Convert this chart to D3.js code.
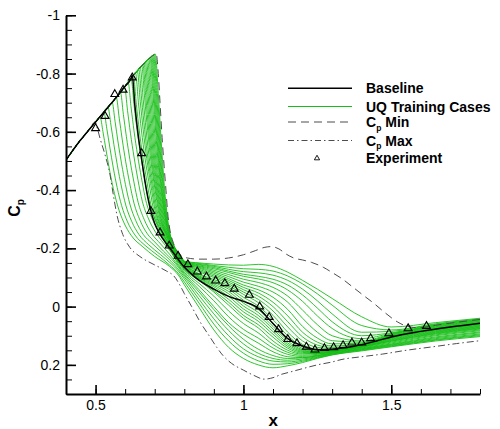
<!DOCTYPE html>
<html>
<head>
<meta charset="utf-8">
<script src="https://cdn.jsdelivr.net/npm/d3@7"></script>
<style>
  body { margin: 0; background: #fff; }
  svg { display: block; }
  text { font-family: "Liberation Sans", Arial, Helvetica, sans-serif; }
</style>
</head>
<body>
<svg id="chart" width="500" height="429"></svg>
<script>
// Common suction branch ahead of the shock, shared by every solution
const sharedBranch = [
  [0.40, -0.503], [0.42, -0.532], [0.44, -0.560], [0.46, -0.585], [0.48, -0.610],
  [0.50, -0.634], [0.52, -0.658], [0.54, -0.682], [0.56, -0.706], [0.58, -0.731],
  [0.60, -0.757], [0.62, -0.783], [0.64, -0.808], [0.66, -0.830], [0.68, -0.850],
  [0.70, -0.866], [0.705, -0.869]
];

// Baseline model, downstream of its shock foot
const baseline = [
  [0.624, -0.794], [0.633, -0.690], [0.644, -0.590], [0.656, -0.505], [0.667, -0.430],
  [0.684, -0.340], [0.700, -0.285], [0.718, -0.248], [0.740, -0.215], [0.763, -0.185],
  [0.796, -0.140], [0.840, -0.098], [0.900, -0.060], [0.950, -0.035], [1.000, -0.018],
  [1.050, 0.005], [1.100, 0.058], [1.150, 0.110], [1.200, 0.135], [1.250, 0.148],
  [1.300, 0.146], [1.370, 0.137], [1.450, 0.118], [1.500, 0.104], [1.600, 0.085],
  [1.700, 0.070], [1.800, 0.057]
];

// Lower bound of Cp (most suction)
const cpMin = [
  [0.705, -0.869], [0.712, -0.800], [0.718, -0.700], [0.725, -0.580], [0.732, -0.480],
  [0.738, -0.400], [0.745, -0.310], [0.752, -0.260], [0.762, -0.222], [0.775, -0.192],
  [0.790, -0.175], [0.810, -0.167], [0.850, -0.163], [0.900, -0.163], [0.950, -0.167],
  [1.000, -0.178], [1.040, -0.192], [1.070, -0.203], [1.095, -0.206], [1.120, -0.198],
  [1.145, -0.180], [1.170, -0.167], [1.200, -0.160], [1.230, -0.152], [1.270, -0.135],
  [1.300, -0.117], [1.330, -0.098], [1.370, -0.067], [1.400, -0.043], [1.440, -0.012],
  [1.480, 0.022], [1.520, 0.052], [1.555, 0.068], [1.590, 0.072], [1.650, 0.064],
  [1.720, 0.054], [1.800, 0.044]
];

// Upper bound of Cp
const cpMax = [
  [0.498, -0.634], [0.507, -0.608], [0.515, -0.578], [0.532, -0.521], [0.549, -0.452],
  [0.559, -0.390], [0.572, -0.316], [0.589, -0.256], [0.616, -0.203], [0.650, -0.172],
  [0.700, -0.143], [0.740, -0.122], [0.765, -0.105], [0.785, -0.074], [0.800, -0.045],
  [0.825, 0.000], [0.855, 0.055], [0.886, 0.103], [0.910, 0.140], [0.931, 0.168],
  [0.960, 0.195], [1.000, 0.218], [1.035, 0.236], [1.070, 0.249], [1.100, 0.244],
  [1.130, 0.232], [1.160, 0.224], [1.200, 0.213], [1.250, 0.200], [1.300, 0.190],
  [1.330, 0.182], [1.400, 0.172], [1.470, 0.163], [1.550, 0.150], [1.640, 0.138],
  [1.720, 0.127], [1.800, 0.117]
];

// Wind-tunnel measurements
const experiment = [
  [0.500, -0.612], [0.532, -0.654], [0.565, -0.729], [0.593, -0.744], [0.624, -0.786],
  [0.656, -0.526], [0.687, -0.328], [0.718, -0.254], [0.749, -0.209], [0.779, -0.174],
  [0.812, -0.145], [0.844, -0.120], [0.875, -0.103], [0.906, -0.089], [0.937, -0.080],
  [0.969, -0.061], [1.020, -0.040], [1.055, 0.000], [1.087, 0.036], [1.119, 0.078],
  [1.150, 0.112], [1.181, 0.126], [1.213, 0.138], [1.242, 0.148], [1.274, 0.143],
  [1.305, 0.140], [1.337, 0.133], [1.367, 0.124], [1.400, 0.124], [1.430, 0.109],
  [1.492, 0.092], [1.557, 0.075], [1.619, 0.067]
];

// Stations where the training-case recovery values are tabulated
const tailStations = [0.80, 0.85, 0.90, 0.95, 1.00, 1.05, 1.10, 1.15, 1.20, 1.25, 1.30, 1.40, 1.50, 1.65, 1.80];

// UQ training cases: shock segment (starting on the shared branch) + recovery values
const trainingCases = [
  { shock: [[0.515,-0.652],[0.525,-0.600],[0.535,-0.540],[0.547,-0.470],[0.560,-0.405],[0.575,-0.345],[0.595,-0.290],[0.620,-0.245],[0.660,-0.205],[0.700,-0.172],[0.750,-0.138],[0.780,-0.108]],
    tail: [-0.075,0.003,0.080,0.140,0.178,0.200,0.210,0.203,0.192,0.178,0.166,0.152,0.138,0.118,0.103] },
  { shock: [[0.528,-0.668],[0.538,-0.611],[0.548,-0.548],[0.560,-0.476],[0.573,-0.409],[0.588,-0.347],[0.608,-0.291],[0.633,-0.246],[0.670,-0.208],[0.710,-0.176],[0.750,-0.143],[0.780,-0.114]],
    tail: [-0.085,-0.012,0.060,0.118,0.160,0.186,0.198,0.196,0.188,0.176,0.165,0.150,0.136,0.115,0.100] },
  { shock: [[0.542,-0.684],[0.552,-0.623],[0.562,-0.556],[0.574,-0.483],[0.587,-0.414],[0.602,-0.349],[0.622,-0.293],[0.647,-0.247],[0.680,-0.212],[0.720,-0.178],[0.755,-0.148],[0.780,-0.122]],
    tail: [-0.095,-0.025,0.042,0.100,0.145,0.172,0.187,0.190,0.184,0.174,0.163,0.148,0.134,0.113,0.097] },
  { shock: [[0.556,-0.701],[0.566,-0.635],[0.576,-0.565],[0.588,-0.490],[0.601,-0.419],[0.616,-0.352],[0.636,-0.295],[0.661,-0.248],[0.690,-0.218],[0.725,-0.185],[0.755,-0.156],[0.780,-0.128]],
    tail: [-0.102,-0.038,0.025,0.082,0.128,0.160,0.178,0.184,0.180,0.172,0.162,0.147,0.132,0.110,0.094] },
  { shock: [[0.570,-0.718],[0.580,-0.647],[0.590,-0.575],[0.602,-0.497],[0.615,-0.425],[0.630,-0.355],[0.650,-0.297],[0.675,-0.250],[0.700,-0.222],[0.730,-0.190],[0.758,-0.162],[0.780,-0.135]],
    tail: [-0.108,-0.050,0.010,0.066,0.112,0.146,0.168,0.178,0.176,0.169,0.160,0.145,0.130,0.107,0.090] },
  { shock: [[0.584,-0.736],[0.594,-0.660],[0.604,-0.585],[0.616,-0.505],[0.629,-0.431],[0.644,-0.358],[0.664,-0.300],[0.689,-0.252],[0.720,-0.215],[0.750,-0.180],[0.780,-0.140]],
    tail: [-0.113,-0.058,0.000,0.055,0.095,0.125,0.155,0.172,0.175,0.169,0.160,0.144,0.128,0.104,0.087] },
  { shock: [[0.598,-0.754],[0.608,-0.674],[0.618,-0.595],[0.630,-0.514],[0.643,-0.437],[0.658,-0.362],[0.678,-0.304],[0.703,-0.255],[0.730,-0.218],[0.758,-0.183],[0.780,-0.145]],
    tail: [-0.118,-0.070,-0.020,0.035,0.078,0.108,0.142,0.164,0.171,0.167,0.158,0.142,0.125,0.100,0.083] },
  { shock: [[0.610,-0.770],[0.620,-0.685],[0.630,-0.603],[0.642,-0.520],[0.655,-0.442],[0.670,-0.364],[0.690,-0.305],[0.715,-0.255],[0.740,-0.220],[0.762,-0.186],[0.780,-0.153]],
    tail: [-0.124,-0.080,-0.036,0.015,0.058,0.090,0.130,0.157,0.167,0.164,0.156,0.140,0.122,0.097,0.080] },
  { shock: [[0.620,-0.783],[0.630,-0.693],[0.640,-0.608],[0.652,-0.523],[0.665,-0.443],[0.680,-0.363],[0.700,-0.303],[0.725,-0.253],[0.750,-0.212],[0.780,-0.158]],
    tail: [-0.128,-0.090,-0.050,-0.005,0.040,0.073,0.118,0.150,0.163,0.162,0.155,0.138,0.119,0.094,0.077] },
  { shock: [[0.628,-0.793],[0.638,-0.693],[0.648,-0.603],[0.660,-0.513],[0.673,-0.433],[0.688,-0.345],[0.708,-0.280],[0.745,-0.205],[0.780,-0.152]],
    tail: [-0.130,-0.092,-0.055,-0.015,0.030,0.062,0.105,0.143,0.160,0.161,0.155,0.138,0.118,0.092,0.075] },
  { shock: [[0.635,-0.802],[0.645,-0.700],[0.655,-0.606],[0.667,-0.511],[0.680,-0.429],[0.695,-0.338],[0.715,-0.274],[0.748,-0.205],[0.780,-0.155]],
    tail: [-0.133,-0.095,-0.062,-0.025,0.018,0.050,0.095,0.137,0.157,0.160,0.154,0.137,0.116,0.090,0.073] },
  { shock: [[0.641,-0.809],[0.651,-0.705],[0.661,-0.607],[0.673,-0.508],[0.686,-0.423],[0.701,-0.331],[0.721,-0.268],[0.750,-0.207],[0.780,-0.157]],
    tail: [-0.136,-0.098,-0.068,-0.035,0.008,0.040,0.086,0.131,0.154,0.158,0.153,0.136,0.114,0.088,0.071] },
  { shock: [[0.646,-0.815],[0.656,-0.709],[0.666,-0.607],[0.678,-0.503],[0.691,-0.417],[0.706,-0.323],[0.726,-0.262],[0.753,-0.207],[0.780,-0.159]],
    tail: [-0.138,-0.100,-0.073,-0.044,-0.002,0.030,0.077,0.125,0.151,0.157,0.152,0.135,0.112,0.086,0.069] },
  { shock: [[0.651,-0.820],[0.661,-0.712],[0.671,-0.606],[0.683,-0.498],[0.696,-0.409],[0.711,-0.316],[0.731,-0.257],[0.755,-0.208],[0.780,-0.161]],
    tail: [-0.140,-0.103,-0.078,-0.052,-0.012,0.020,0.068,0.118,0.148,0.155,0.151,0.134,0.110,0.084,0.067] },
  { shock: [[0.656,-0.826],[0.666,-0.716],[0.676,-0.605],[0.688,-0.493],[0.701,-0.402],[0.716,-0.309],[0.736,-0.251],[0.758,-0.206],[0.780,-0.165]],
    tail: [-0.143,-0.106,-0.083,-0.060,-0.022,0.010,0.058,0.110,0.144,0.153,0.150,0.133,0.108,0.082,0.065] },
  { shock: [[0.660,-0.830],[0.670,-0.718],[0.680,-0.603],[0.692,-0.487],[0.705,-0.393],[0.720,-0.302],[0.740,-0.245],[0.760,-0.200],[0.780,-0.166]],
    tail: [-0.145,-0.110,-0.088,-0.066,-0.032,-0.002,0.045,0.100,0.138,0.150,0.149,0.132,0.106,0.080,0.063] },
  { shock: [[0.664,-0.834],[0.674,-0.720],[0.684,-0.601],[0.696,-0.480],[0.709,-0.385],[0.724,-0.294],[0.744,-0.239],[0.762,-0.199],[0.780,-0.166]],
    tail: [-0.146,-0.113,-0.093,-0.072,-0.042,-0.014,0.030,0.088,0.130,0.146,0.147,0.131,0.104,0.078,0.061] },
  { shock: [[0.668,-0.838],[0.678,-0.722],[0.688,-0.599],[0.700,-0.474],[0.713,-0.376],[0.728,-0.287],[0.748,-0.233],[0.765,-0.196],[0.782,-0.167]],
    tail: [-0.148,-0.120,-0.100,-0.078,-0.050,-0.025,0.015,0.070,0.118,0.140,0.144,0.130,0.103,0.076,0.059] },
  { shock: [[0.672,-0.842],[0.682,-0.724],[0.692,-0.597],[0.704,-0.467],[0.717,-0.367],[0.732,-0.280],[0.752,-0.228],[0.768,-0.193],[0.784,-0.168]],
    tail: [-0.150,-0.124,-0.105,-0.084,-0.058,-0.036,0.000,0.052,0.104,0.132,0.140,0.129,0.102,0.075,0.058] },
  { shock: [[0.676,-0.846],[0.686,-0.727],[0.696,-0.595],[0.708,-0.460],[0.721,-0.358],[0.736,-0.273],[0.756,-0.222],[0.772,-0.188],[0.786,-0.168]],
    tail: [-0.151,-0.128,-0.110,-0.090,-0.066,-0.047,-0.015,0.032,0.088,0.122,0.135,0.127,0.100,0.073,0.056] },
  { shock: [[0.680,-0.850],[0.690,-0.729],[0.700,-0.593],[0.712,-0.454],[0.725,-0.349],[0.740,-0.266],[0.760,-0.216],[0.778,-0.178]],
    tail: [-0.152,-0.132,-0.115,-0.096,-0.074,-0.058,-0.032,0.010,0.068,0.108,0.128,0.125,0.098,0.071,0.054] },
  { shock: [[0.684,-0.853],[0.694,-0.730],[0.704,-0.590],[0.716,-0.446],[0.729,-0.340],[0.744,-0.258],[0.764,-0.210],[0.781,-0.176]],
    tail: [-0.153,-0.135,-0.120,-0.103,-0.084,-0.070,-0.050,-0.015,0.040,0.088,0.117,0.122,0.096,0.069,0.052] },
  { shock: [[0.687,-0.856],[0.697,-0.731],[0.707,-0.587],[0.719,-0.439],[0.732,-0.330],[0.747,-0.251],[0.767,-0.204],[0.784,-0.174]],
    tail: [-0.154,-0.138,-0.125,-0.110,-0.094,-0.083,-0.066,-0.036,0.012,0.062,0.100,0.118,0.094,0.067,0.050] },
  { shock: [[0.690,-0.858],[0.700,-0.731],[0.710,-0.582],[0.722,-0.430],[0.735,-0.319],[0.750,-0.244],[0.770,-0.198],[0.786,-0.172]],
    tail: [-0.154,-0.140,-0.130,-0.117,-0.104,-0.095,-0.082,-0.057,-0.018,0.032,0.075,0.110,0.092,0.065,0.048] },
  { shock: [[0.693,-0.861],[0.703,-0.732],[0.713,-0.579],[0.725,-0.423],[0.738,-0.309],[0.753,-0.237],[0.773,-0.193],[0.788,-0.170]],
    tail: [-0.155,-0.143,-0.134,-0.122,-0.111,-0.104,-0.094,-0.074,-0.040,0.005,0.052,0.100,0.090,0.063,0.046] },
  { shock: [[0.696,-0.863],[0.706,-0.732],[0.716,-0.575],[0.728,-0.414],[0.741,-0.299],[0.756,-0.229],[0.776,-0.187],[0.790,-0.168]],
    tail: [-0.155,-0.145,-0.138,-0.128,-0.120,-0.116,-0.108,-0.090,-0.060,-0.020,0.025,0.088,0.085,0.061,0.044] },
  { shock: [[0.699,-0.865],[0.709,-0.732],[0.719,-0.571],[0.731,-0.406],[0.744,-0.288],[0.759,-0.222],[0.779,-0.183],[0.792,-0.166]],
    tail: [-0.156,-0.148,-0.141,-0.135,-0.130,-0.128,-0.122,-0.105,-0.078,-0.044,-0.005,0.065,0.080,0.059,0.042] },
  { shock: [[0.702,-0.867],[0.712,-0.732],[0.722,-0.567],[0.734,-0.397],[0.747,-0.277],[0.762,-0.215],[0.782,-0.178],[0.793,-0.165]],
    tail: [-0.156,-0.150,-0.146,-0.143,-0.142,-0.145,-0.138,-0.118,-0.090,-0.060,-0.028,0.035,0.070,0.055,0.040] }
];

// Axis ticks
const xTicks = [0.5, 1, 1.5];
const xTickLabels = ["0.5", "1", "1.5"];
const yTicks = [-1, -0.8, -0.6, -0.4, -0.2, 0, 0.2];
const yTickLabels = ["-1", "-0.8", "-0.6", "-0.4", "-0.2", "0", "0.2"];

// Legend entries
const legendItems = ["Baseline", "UQ Training Cases", "Min", "Max", "Experiment"];

const svg = d3.select("#chart");
const plotLeft = 66, plotRight = 480, plotTop = 15.3, plotBottom = 394;

const x = d3.scaleLinear().domain([0.4, 1.8]).range([plotLeft, plotRight]);
const y = d3.scaleLinear().domain([-1, 0.3]).range([plotTop, plotBottom]);

const line = d3.line()
  .x(d => x(d[0]))
  .y(d => y(d[1]))
  .curve(d3.curveMonotoneX);

// Prepend the shared branch ahead of a curve's first own point
function withBranch(points) {
  const start = points[0][0];
  return sharedBranch.filter(p => p[0] < start - 0.003).concat(points);
}

svg.append("defs").append("clipPath").attr("id", "plot-clip")
  .append("rect").attr("x", plotLeft).attr("y", plotTop - 2)
  .attr("width", plotRight - plotLeft).attr("height", plotBottom - plotTop + 2);

const plot = svg.append("g").attr("clip-path", "url(#plot-clip)");

const green = "#16bd16";
const gray = "#4d4d4d";

// Training cases
plot.append("g").selectAll("path")
  .data(trainingCases)
  .join("path")
  .attr("d", c => line(withBranch(c.shock).concat(tailStations.map((s, k) => [s, c.tail[k]]))))
  .attr("fill", "none")
  .attr("stroke", green)
  .attr("stroke-width", 0.9);

// Bounds
plot.append("path")
  .attr("d", line(withBranch(cpMin)))
  .attr("fill", "none").attr("stroke", gray).attr("stroke-width", 1)
  .attr("stroke-dasharray", "8,5");

plot.append("path")
  .attr("d", line(withBranch(cpMax)))
  .attr("fill", "none").attr("stroke", gray).attr("stroke-width", 1)
  .attr("stroke-dasharray", "7,3,1.5,3");

// Baseline
plot.append("path")
  .attr("d", line(withBranch(baseline)))
  .attr("fill", "none").attr("stroke", "#000").attr("stroke-width", 1.5);

// Experiment symbols
const tri = d3.symbol().type(d3.symbolTriangle).size(27);
svg.append("g").selectAll("path")
  .data(experiment)
  .join("path")
  .attr("transform", d => `translate(${x(d[0])},${y(d[1])})`)
  .attr("d", tri)
  .attr("fill", "none")
  .attr("stroke", "#000")
  .attr("stroke-width", 1.1);

// Axes
const font = '"Liberation Sans", Arial, sans-serif';

const xAxisMinor = svg.append("g").attr("transform", `translate(0,${plotBottom})`)
  .call(d3.axisBottom(x).tickValues(x.ticks(14)).tickSize(-5).tickSizeOuter(0).tickFormat(() => ""));
xAxisMinor.select(".domain").remove();
xAxisMinor.selectAll("line").attr("stroke", "#000").attr("stroke-width", 1);

const xAxis = svg.append("g").attr("transform", `translate(0,${plotBottom})`)
  .call(d3.axisBottom(x).tickValues(xTicks).tickSize(-9).tickSizeOuter(0).tickPadding(6)
    .tickFormat((d, i) => xTickLabels[i]));
xAxis.select(".domain").attr("stroke", "#000").attr("stroke-width", 2);
xAxis.selectAll("line").attr("stroke", "#000").attr("stroke-width", 1.6);
xAxis.selectAll("text").attr("font-size", 14).attr("font-family", font).attr("fill", "#000");

const yAxisMinor = svg.append("g").attr("transform", `translate(${plotLeft},0)`)
  .call(d3.axisLeft(y).tickValues(y.ticks(26)).tickSize(-6).tickSizeOuter(0).tickFormat(() => ""));
yAxisMinor.select(".domain").remove();
yAxisMinor.selectAll("line").attr("stroke", "#000").attr("stroke-width", 1);

const yAxis = svg.append("g").attr("transform", `translate(${plotLeft},0)`)
  .call(d3.axisLeft(y).tickValues(yTicks).tickSize(-10).tickSizeOuter(0).tickPadding(6)
    .tickFormat((d, i) => yTickLabels[i]));
yAxis.select(".domain").attr("stroke", "#000").attr("stroke-width", 2);
yAxis.selectAll("line").attr("stroke", "#000").attr("stroke-width", 1.6);
yAxis.selectAll("text").attr("font-size", 14).attr("font-family", font).attr("fill", "#000");

// Axis titles
svg.append("text")
  .attr("x", (plotLeft + plotRight) / 2 + 0.3).attr("y", 426)
  .attr("text-anchor", "middle")
  .attr("font-size", 17).attr("font-weight", "bold")
  .text("x");

const yTitle = svg.append("text")
  .attr("transform", "translate(20,208) rotate(-90)")
  .attr("text-anchor", "middle")
  .attr("font-size", 16).attr("font-weight", "bold");
yTitle.append("tspan").text("C");
yTitle.append("tspan").attr("font-size", 10).attr("dy", 4).text("p");

// Legend
const legend = svg.append("g");
const lx0 = 288, lx1 = 352, tx = 366;
const rows = [88.3, 106.5, 122, 140.5, 158.3];
const styles = [
  { stroke: "#000", width: 1.5, dash: null },
  { stroke: green, width: 1, dash: null },
  { stroke: gray, width: 1, dash: "8,5" },
  { stroke: gray, width: 1, dash: "6,3,1.5,3" }
];
styles.forEach((s, i) => {
  legend.append("line")
    .attr("x1", lx0).attr("x2", lx1).attr("y1", rows[i]).attr("y2", rows[i])
    .attr("stroke", s.stroke).attr("stroke-width", s.width)
    .attr("stroke-dasharray", s.dash);
});
legend.append("path")
  .attr("transform", `translate(${(lx0 + lx1) / 2 - 3},${rows[4]})`)
  .attr("d", d3.symbol().type(d3.symbolTriangle).size(12))
  .attr("fill", "none").attr("stroke", "#000").attr("stroke-width", 0.9);

legendItems.forEach((label, i) => {
  const t = legend.append("text")
    .attr("x", tx).attr("y", rows[i] + 5)
    .attr("font-size", 14).attr("font-weight", "bold").attr("fill", "#000");
  if (i === 2 || i === 3) {
    t.append("tspan").text("C");
    t.append("tspan").attr("font-size", 8.5).attr("dy", 3.5).text("p");
    t.append("tspan").attr("dy", -3.5).text(" " + label);
  } else {
    t.text(label);
  }
});
</script>
</body>
</html>
